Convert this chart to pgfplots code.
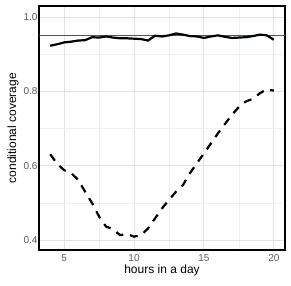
\documentclass[border=0pt]{standalone}
\usepackage{pgfplots}
\pgfplotsset{compat=1.18}
\usepackage{fontspec}
\setmainfont{Liberation Sans}
\definecolor{gridmaj}{gray}{0.89}
\definecolor{gridmin}{gray}{0.94}
\definecolor{ticklab}{gray}{0.35}
\definecolor{refred}{RGB}{230,20,20}
\begin{document}
\begin{tikzpicture}
\useasboundingbox (-39pt,-35pt) rectangle (252pt,250pt);
\begin{axis}[
  scale only axis, width=246pt, height=244pt,
  xmin=3.2, xmax=20.8, ymin=0.373, ymax=1.03,
  xtick={5,10,15,20}, ytick={0.4,0.6,0.8,1.0},
  minor xtick={7.5,12.5,17.5}, minor ytick={0.5,0.7,0.9},
  yticklabel style={xshift=2pt, /pgf/number format/.cd,fixed,fixed zerofill,precision=1},
  /pgf/number format/assume math mode=true,
  grid=both,
  major grid style={gridmaj, line width=0.9pt},
  minor grid style={gridmin, line width=0.5pt},
  axis line style={black, line width=1.2pt},
  tick style={draw=none},
  ticklabel style={font=\fontsize{10}{12}\selectfont, text=ticklab},
  xticklabel style={yshift=-1pt},
  label style={font=\fontsize{12}{14}\selectfont},
  xlabel={hours in a day}, ylabel={conditional coverage},
  xlabel style={yshift=4pt},
  ylabel style={yshift=-2pt},
]
\addplot[draw=refred, line width=1.2pt, mark=none, forget plot] table {
x y
3.2 0.95
20.8 0.95
};
\addplot[black, line width=2.2pt] coordinates {
(4,0.923) (4.5,0.927) (5,0.932) (5.5,0.934) (6,0.937) (6.5,0.938) (7,0.946) (7.5,0.945) (8,0.948)
(8.5,0.945) (9,0.943) (9.5,0.943) (10,0.942) (10.5,0.941) (11,0.937) (11.5,0.950) (12,0.948)
(12.5,0.951) (13,0.956) (13.5,0.953) (14,0.949) (14.5,0.948) (15,0.944) (15.5,0.948) (16,0.951)
(16.5,0.947) (17,0.944) (17.5,0.945) (18,0.946) (18.5,0.949) (19,0.953) (19.5,0.951) (20,0.939)};
\addplot[black, line width=2.2pt, dash pattern=on 8pt off 7pt] coordinates {
(4,0.631) (4.5,0.605) (5,0.588) (5.5,0.580) (6,0.562) (6.5,0.530) (7,0.499) (7.5,0.463) (8,0.436)
(8.5,0.429) (9,0.413) (9.5,0.416) (10,0.409) (10.5,0.413) (11,0.431) (11.5,0.458) (12,0.485)
(12.5,0.508) (13,0.530) (13.5,0.548) (14,0.580) (14.5,0.607) (15,0.633) (15.5,0.660) (16,0.687)
(16.5,0.712) (17,0.737) (17.5,0.758) (18,0.773) (18.5,0.780) (19,0.795) (19.5,0.806) (20,0.802)};
\end{axis}
\end{tikzpicture}
\end{document}
